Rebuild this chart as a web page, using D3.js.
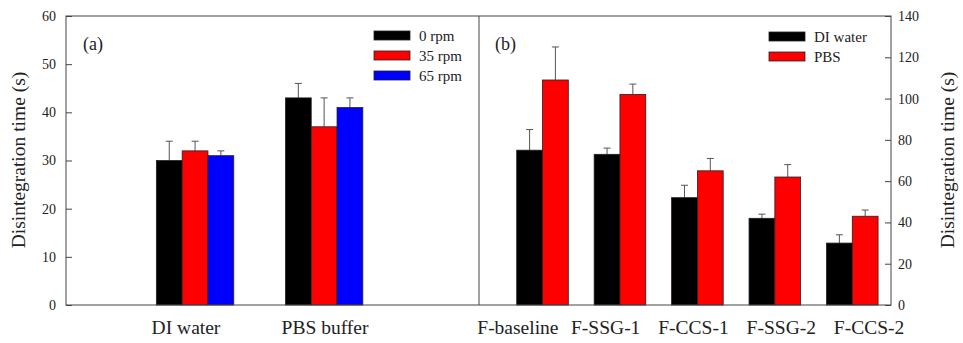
<!DOCTYPE html>
<html>
<head>
<meta charset="utf-8">
<script src="https://cdn.jsdelivr.net/npm/d3@7"></script>
<style>
  body { margin: 0; background: #fff; }
  svg text { font-family: "Liberation Serif", "Times New Roman", serif; fill: #222; }
</style>
</head>
<body>
<div id="chart"></div>
<script>
// panel (a)
var groupsA = ["DI water", "PBS buffer"];
var seriesA = ["0 rpm", "35 rpm", "65 rpm"];
var meanA = [[30, 32, 31], [43, 37, 41]];
var errA = [[4, 2, 1], [3, 6, 2]];
var ticksA = [0, 10, 20, 30, 40, 50, 60];

// panel (b)
var groupsB = ["F-baseline", "F-SSG-1", "F-CCS-1", "F-SSG-2", "F-CCS-2"];
var seriesB = ["DI water", "PBS"];
var meanB = [[75, 109], [73, 102], [52, 65], [42, 62], [30, 43]];
var errB = [[10, 16], [3, 5], [6, 6], [2, 6], [4, 3]];
var ticksB = [0, 20, 40, 60, 80, 100, 120, 140];

var colorsA = ["#000000", "#ff0000", "#0000ff"];
var colorsB = ["#000000", "#ff0000"];

(function() {
  var width = 963, height = 343;
  var pLeft = 66, pMid = 479, pRight = 891, pTop = 16, pBottom = 305;
  var barW = 25.8;
  var lineColor = "#444";

  var svg = d3.select("#chart").append("svg")
      .attr("width", width)
      .attr("height", height);

  var yA = d3.scaleLinear().domain([0, 60]).range([pBottom, pTop]);
  var yB = d3.scaleLinear().domain([0, 140]).range([pBottom, pTop]);
  // group positions 1..n on a linear scale
  var xA = d3.scaleLinear().domain([0, 3.2]).range([pLeft, pMid]);
  var xB = d3.scaleLinear().domain([0.18, 5.5]).range([pMid, pRight]);
  // category labels are spaced on their own
  var labA = d3.scalePoint().domain(groupsA).range([186, 325]);
  var labB = d3.scaleBand().domain(groupsB).range([474, 913]);

  function drawBars(g, groups, means, errs, x, y, colors) {
    groups.forEach(function(name, i) {
      var n = means[i].length;
      var cx = x(i + 1);
      means[i].forEach(function(v, j) {
        var x0 = cx - n * barW / 2 + j * barW;
        var bx = x0 + barW / 2;
        var ey = y(v + errs[i][j]);
        g.append("line")
          .attr("x1", bx).attr("x2", bx)
          .attr("y1", y(v)).attr("y2", ey)
          .attr("stroke", "#555").attr("stroke-width", 1);
        g.append("line")
          .attr("x1", bx - 3.5).attr("x2", bx + 3.5)
          .attr("y1", ey).attr("y2", ey)
          .attr("stroke", "#555").attr("stroke-width", 1);
        g.append("rect")
          .attr("x", x0)
          .attr("y", y(v))
          .attr("width", barW)
          .attr("height", y(0) - y(v))
          .attr("fill", colors[j])
          .attr("stroke", "#222")
          .attr("stroke-width", 0.8);
      });
    });
  }

  drawBars(svg.append("g"), groupsA, meanA, errA, xA, yA, colorsA);
  drawBars(svg.append("g"), groupsB, meanB, errB, xB, yB, colorsB);

  // frame
  var frame = svg.append("g").attr("stroke", lineColor).attr("stroke-width", 1).attr("fill", "none");
  frame.append("rect").attr("x", pLeft).attr("y", pTop).attr("width", pRight - pLeft).attr("height", pBottom - pTop);
  frame.append("line").attr("x1", pMid).attr("x2", pMid).attr("y1", pTop).attr("y2", pBottom);

  // axes (ticks point inward)
  var axA = svg.append("g").attr("transform", "translate(" + pLeft + ",0)")
      .call(d3.axisRight(yA).tickValues(ticksA).tickSize(6).tickFormat(d3.format("d")));
  axA.select(".domain").remove();
  axA.selectAll(".tick line").attr("stroke", lineColor);
  axA.selectAll(".tick text")
      .attr("x", -10).attr("text-anchor", "end")
      .style("font-size", "14px").style("font-family", "Liberation Serif");

  var axB = svg.append("g").attr("transform", "translate(" + pRight + ",0)")
      .call(d3.axisLeft(yB).tickValues(ticksB).tickSize(6).tickFormat(d3.format("d")));
  axB.select(".domain").remove();
  axB.selectAll(".tick line").attr("stroke", lineColor);
  axB.selectAll(".tick text")
      .attr("x", 7).attr("text-anchor", "start")
      .style("font-size", "14px").style("font-family", "Liberation Serif");

  // category labels
  svg.selectAll(".catA").data(groupsA).enter().append("text")
      .attr("x", function(d) { return labA(d); })
      .attr("y", 334)
      .attr("text-anchor", "middle")
      .style("font-size", "19.5px")
      .text(function(d) { return d; });

  svg.selectAll(".catB").data(groupsB).enter().append("text")
      .attr("x", function(d) { return labB(d) + labB.bandwidth() / 2; })
      .attr("y", 334)
      .attr("text-anchor", "middle")
      .style("font-size", "19.5px")
      .text(function(d) { return d; });

  // axis titles
  svg.append("text")
      .attr("transform", "translate(25,160) rotate(-90)")
      .attr("text-anchor", "middle")
      .style("font-size", "19.5px")
      .text("Disintegration time (s)");
  svg.append("text")
      .attr("transform", "translate(954,160) rotate(-90)")
      .attr("text-anchor", "middle")
      .style("font-size", "19.5px")
      .text("Disintegration time (s)");

  // panel letters
  svg.append("text").attr("x", 83).attr("y", 50).style("font-size", "18px").text("(a)");
  svg.append("text").attr("x", 495).attr("y", 50).style("font-size", "18px").text("(b)");

  // legends
  function legend(x, y, names, colors) {
    var g = svg.append("g").attr("transform", "translate(" + x + "," + y + ")");
    names.forEach(function(n, i) {
      g.append("rect")
        .attr("x", 0).attr("y", i * 20 - 4.5)
        .attr("width", 36).attr("height", 9)
        .attr("fill", colors[i]).attr("stroke", "#222").attr("stroke-width", 0.8);
      g.append("text")
        .attr("x", 45).attr("y", i * 20 + 5)
        .style("font-size", "15px")
        .text(n);
    });
  }
  legend(374, 35.5, seriesA, colorsA);
  legend(769, 36.5, seriesB, colorsB);
})();
</script>
</body>
</html>
